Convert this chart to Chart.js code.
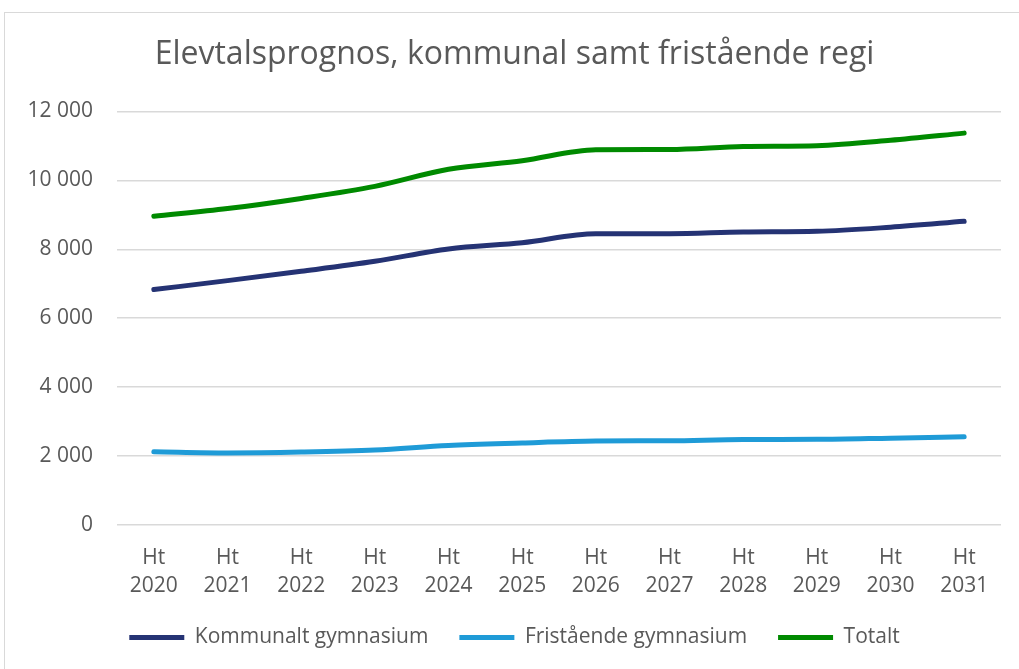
<!DOCTYPE html>
<html>
<head>
<meta charset="utf-8">
<script src="https://cdn.jsdelivr.net/npm/chart.js@4"></script>
<style>
  html, body { margin: 0; padding: 0; background: #fff; overflow: hidden; }
  .frame { position: absolute; left: 4px; top: 12px; width: 1100px; height: 700px;
           border-left: 1px solid #d9d9d9; border-top: 1px solid #d9d9d9; }
  #chart { position: absolute; left: 0; top: 0; }
</style>
</head>
<body>
<div class="frame"></div>
<canvas id="chart" width="1019" height="669"></canvas>
<script>
// Elevtalsprognos - data
const years = ['2020', '2021', '2022', '2023', '2024', '2025', '2026', '2027', '2028', '2029', '2030', '2031'];
const kommunalt = [6830, 7090, 7360, 7650, 8010, 8190, 8450, 8450, 8500, 8520, 8640, 8810];
const fristaende = [2125, 2090, 2115, 2175, 2310, 2380, 2435, 2445, 2480, 2485, 2520, 2560];
const totalt = [8955, 9180, 9475, 9825, 10320, 10570, 10885, 10895, 10980, 11005, 11160, 11370];
const yTicks = [0, 2000, 4000, 6000, 8000, 10000, 12000];

const labels = years.map(y => ['Ht', y]);
const textColor = '#595959';
const font = 'Open Sans';

function series(label, data, color) {
    return {
        label: label,
        data: data,
        borderColor: color,
        backgroundColor: color,
        borderWidth: 5,
        pointRadius: 0,
        pointHoverRadius: 0,
        cubicInterpolationMode: 'monotone',
        borderCapStyle: 'round',
        pointStyle: 'line'
    };
}

new Chart(document.getElementById('chart'), {
    type: 'line',
    data: {
        labels: labels,
        datasets: [
            series('Kommunalt gymnasium', kommunalt, '#253374'),
            series('Fristående gymnasium', fristaende, '#1f9bd7'),
            series('Totalt', totalt, '#008a00')
        ]
    },
    options: {
        responsive: false,
        animation: false,
        layout: { padding: { left: 28, right: 18, top: 32, bottom: 11 } },
        plugins: {
            title: {
                display: true,
                text: 'Elevtalsprognos, kommunal samt fristående regi',
                color: textColor,
                font: { family: font, size: 32, weight: 'normal', lineHeight: 1.2 },
                padding: { top: 4, bottom: 37 }
            },
            legend: {
                position: 'bottom',
                labels: {
                    usePointStyle: true,
                    pointStyleWidth: 55,
                    boxHeight: 5,
                    color: textColor,
                    font: { family: font, size: 21 },
                    padding: 31
                }
            },
            tooltip: { enabled: false }
        },
        scales: {
            x: {
                offset: true,
                grid: { display: false, drawTicks: false },
                border: { display: false },
                ticks: {
                    color: textColor,
                    font: { family: font, size: 21, lineHeight: 1.33 },
                    maxRotation: 0,
                    autoSkip: false,
                    padding: 19
                },
                afterFit: scale => { scale.height = 71; }
            },
            y: {
                min: 0,
                max: 12000,
                afterBuildTicks: axis => { axis.ticks = yTicks.map(v => ({ value: v })); },
                grid: { color: '#d9d9d9', lineWidth: 1.5, drawTicks: false },
                border: { display: false },
                ticks: {
                    color: textColor,
                    font: { family: font, size: 21 },
                    padding: 24,
                    callback: v => String(v).replace(/\B(?=(\d{3})+(?!\d))/g, ' ')
                },
                afterFit: scale => { scale.width = 89; }
            }
        }
    }
});
</script>
</body>
</html>
